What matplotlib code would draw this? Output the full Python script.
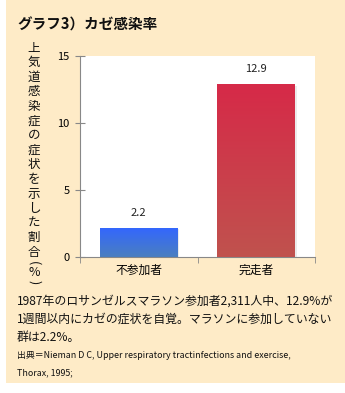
import numpy as np
import matplotlib.pyplot as plt
from matplotlib.patches import Rectangle
from matplotlib.colors import to_rgb

plt.rcParams['font.family'] = ['Noto Sans CJK JP', 'DejaVu Sans']

categories = ['不参加者', '完走者']
values = [2.2, 12.9]
value_labels = ['2.2', '12.9']
yticks = [0, 5, 10, 15]
title = 'グラフ3）カゼ感染率'
ylabel = '上気道感染症の症状を示した割合'
ylabel_tail = ['(', '%', ')']
note_lines = ['1987年のロサンゼルスマラソン参加者2,311人中、12.9%が',
              '1週間以内にカゼの症状を自覚。マラソンに参加していない',
              '群は2.2%。']
source_lines = ['出典＝Nieman D C, Upper respiratory tractinfections and exercise,',
                'Thorax, 1995;']

# gradient colours top -> bottom
grad = [('#3366ff', '#4a7fc0'), ('#d62a48', '#c0524e')]

W, H = 345, 393
fig = plt.figure(figsize=(W / 100, H / 100), dpi=100)
fig.patch.set_facecolor('white')
fig.patches.append(Rectangle((6 / W, 10 / H), 1 - 6 / W, 1 - 10 / H,
                             transform=fig.transFigure, facecolor='#feebc7',
                             edgecolor='none', zorder=-5))

ax = fig.add_axes([80 / W, 1 - 257 / H, 235 / W, 201 / H])
ax.set_facecolor('white')

x = np.arange(len(categories))
bars = ax.bar(x, values, width=0.66, color='none', zorder=3)
for i, b in enumerate(bars):
    x0, y0 = b.get_x(), b.get_y()
    w, h = b.get_width(), b.get_height()
    # soft shadow
    ax.bar(x0 + w / 2 + 0.015, h, width=w, bottom=-0.12, color='#000000',
           alpha=0.08, zorder=2)
    c1 = np.array(to_rgb(grad[i][0]))
    c2 = np.array(to_rgb(grad[i][1]))
    t = np.linspace(0, 1, 64)[:, None]
    img = (c1 * (1 - t) + c2 * t)[:, None, :]
    im = ax.imshow(img, extent=[x0, x0 + w, y0, y0 + h], aspect='auto',
                   origin='upper', zorder=3)
    im.set_clip_path(b)
    ax.annotate(value_labels[i], (x0 + w / 2, h), xytext=(0, 7),
                textcoords='offset points', ha='center', va='bottom',
                fontsize=8, color='#222222')

ax.set_xlim(-0.5, 1.5)
ax.set_ylim(0, 15)
ax.set_yticks(yticks)
ax.set_xticks(x)
ax.set_xticklabels(categories, fontsize=8.5)
ax.set_xticks([-0.5, 0.5, 1.5], minor=True)
ax.tick_params(axis='x', which='major', length=0, pad=5)
ax.tick_params(axis='x', which='minor', length=4, color='#888888', direction='out')
ax.tick_params(axis='y', length=7, direction='inout', color='#888888', labelsize=8, pad=4)
for s in ['top', 'right']:
    ax.spines[s].set_visible(False)
for s in ['left', 'bottom']:
    ax.spines[s].set_color('#888888')

fig.text(17 / W, 1 - 25 / H, title, fontsize=10.5, fontweight='bold',
         va='center', ha='left', color='#111111')

# vertical y label, one character per row
for k, ch in enumerate(ylabel):
    fig.text(34 / W, 1 - (48 + k * 14.6) / H, ch, fontsize=9, ha='center',
             va='center', color='#111111')
for ch, yp, rot in zip(ylabel_tail, [263, 272.5, 282], [-90, 0, -90]):
    fig.text(34 / W, 1 - yp / H, ch, fontsize=9, ha='center', va='center',
             rotation=rot, color='#111111')

for k, line in enumerate(note_lines):
    fig.text(17 / W, 1 - (301 + k * 18) / H, line, fontsize=8.6, ha='left',
             va='center', color='#111111')
for k, line in enumerate(source_lines):
    fig.text(17 / W, 1 - (356 + k * 17) / H, line, fontsize=6.4, ha='left',
             va='center', color='#111111')

fig.savefig('out.png', dpi=100, facecolor=fig.get_facecolor())
